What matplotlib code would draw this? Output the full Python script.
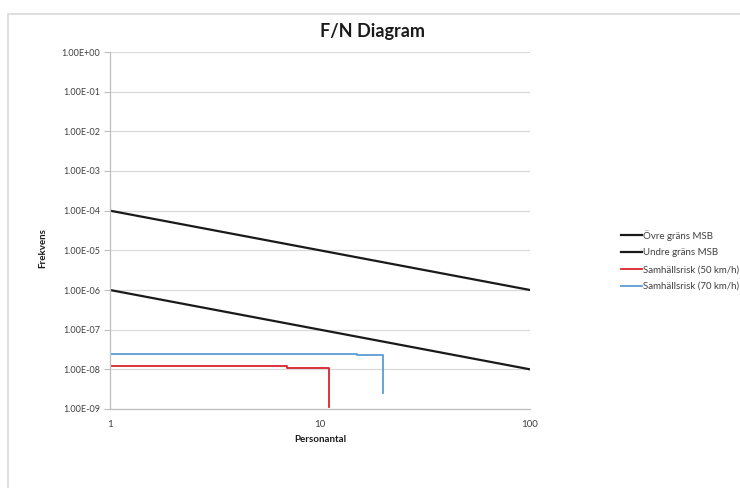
import matplotlib
matplotlib.use('Agg')

import matplotlib.pyplot as plt
from matplotlib.patches import Rectangle
from matplotlib.ticker import FixedLocator, NullLocator

# Data
limit_n = [1, 100]
upper_msb = [1e-4, 1e-6]
lower_msb = [1e-6, 1e-8]

risk50_n = [1, 7, 11]
risk50_f = [1.21e-8, 1.10e-8, 1.15e-9]

risk70_n = [1, 15, 20]
risk70_f = [2.47e-8, 2.29e-8, 2.5e-9]

y_ticks = [10.0 ** -k for k in range(0, 10)]
y_labels = ["1.00E+00"] + ["1.00E-%02d" % k for k in range(1, 10)]
x_ticks = [1, 10, 100]
x_labels = ["1", "10", "100"]

plt.rcParams['font.family'] = ['Lato', 'DejaVu Sans']

fig = plt.figure(figsize=(7.4, 4.88), dpi=100)

# Outer chart frame (like the Excel chart area)
fig.patches.append(Rectangle((8 / 740, -0.1), 1.2, 1 - 14 / 488 + 0.1,
                             transform=fig.transFigure, fill=False,
                             edgecolor='#d9d9d9', linewidth=1.2))

ax = fig.add_axes([110 / 740, 1 - 409 / 488, 420 / 740, 357 / 488])
ax.set_xscale('log')
ax.set_yscale('log')
ax.set_xlim(1, 100)
ax.set_ylim(1e-9, 1)

ax.plot(limit_n, upper_msb, color='#1a1a1a', linewidth=1.6, label='Övre gräns MSB')
ax.plot(limit_n, lower_msb, color='#1a1a1a', linewidth=1.6, label='Undre gräns MSB')
ax.step(risk50_n, risk50_f, where='post', color='#d9232b', linewidth=1.3,
        label='Samhällsrisk (50 km/h)')
ax.step(risk70_n, risk70_f, where='post', color='#5b9bd5', linewidth=1.3,
        label='Samhällsrisk (70 km/h)')

# Axes look
ax.yaxis.set_major_locator(FixedLocator(y_ticks))
ax.set_yticklabels(y_labels)
ax.yaxis.set_minor_locator(NullLocator())
ax.xaxis.set_major_locator(FixedLocator(x_ticks))
ax.set_xticklabels(x_labels)
ax.xaxis.set_minor_locator(NullLocator())
ax.grid(axis='y', color='#d9d9d9', linewidth=0.9)
ax.set_axisbelow(True)
for side in ['top', 'right']:
    ax.spines[side].set_visible(False)
for side in ['left', 'bottom']:
    ax.spines[side].set_color('#bfbfbf')
    ax.spines[side].set_linewidth(0.9)
ax.tick_params(axis='y', length=4, color='#bfbfbf', labelsize=6.5,
               labelcolor='#404040', pad=3)
ax.tick_params(axis='x', length=0, labelsize=7, labelcolor='#404040', pad=8)

fig.text(373 / 740, 1 - 31 / 488, 'F/N Diagram', fontsize=13, fontweight='bold',
         ha='center', va='center', color='#1a1a1a')
fig.text(43 / 740, 1 - 248 / 488, 'Frekvens', fontsize=7, fontweight='bold',
         rotation=90, ha='center', va='center', color='#1a1a1a')
fig.text(320 / 740, 1 - 439 / 488, 'Personantal', fontsize=7, fontweight='bold',
         ha='center', va='center', color='#1a1a1a')

fig.legend(loc='upper left', bbox_to_anchor=(612 / 740, 1 - 221 / 488),
           frameon=False, fontsize=7, handlelength=2.2, handletextpad=0.1,
           labelspacing=0.8, labelcolor='#404040')

fig.savefig('out.png', dpi=100)
